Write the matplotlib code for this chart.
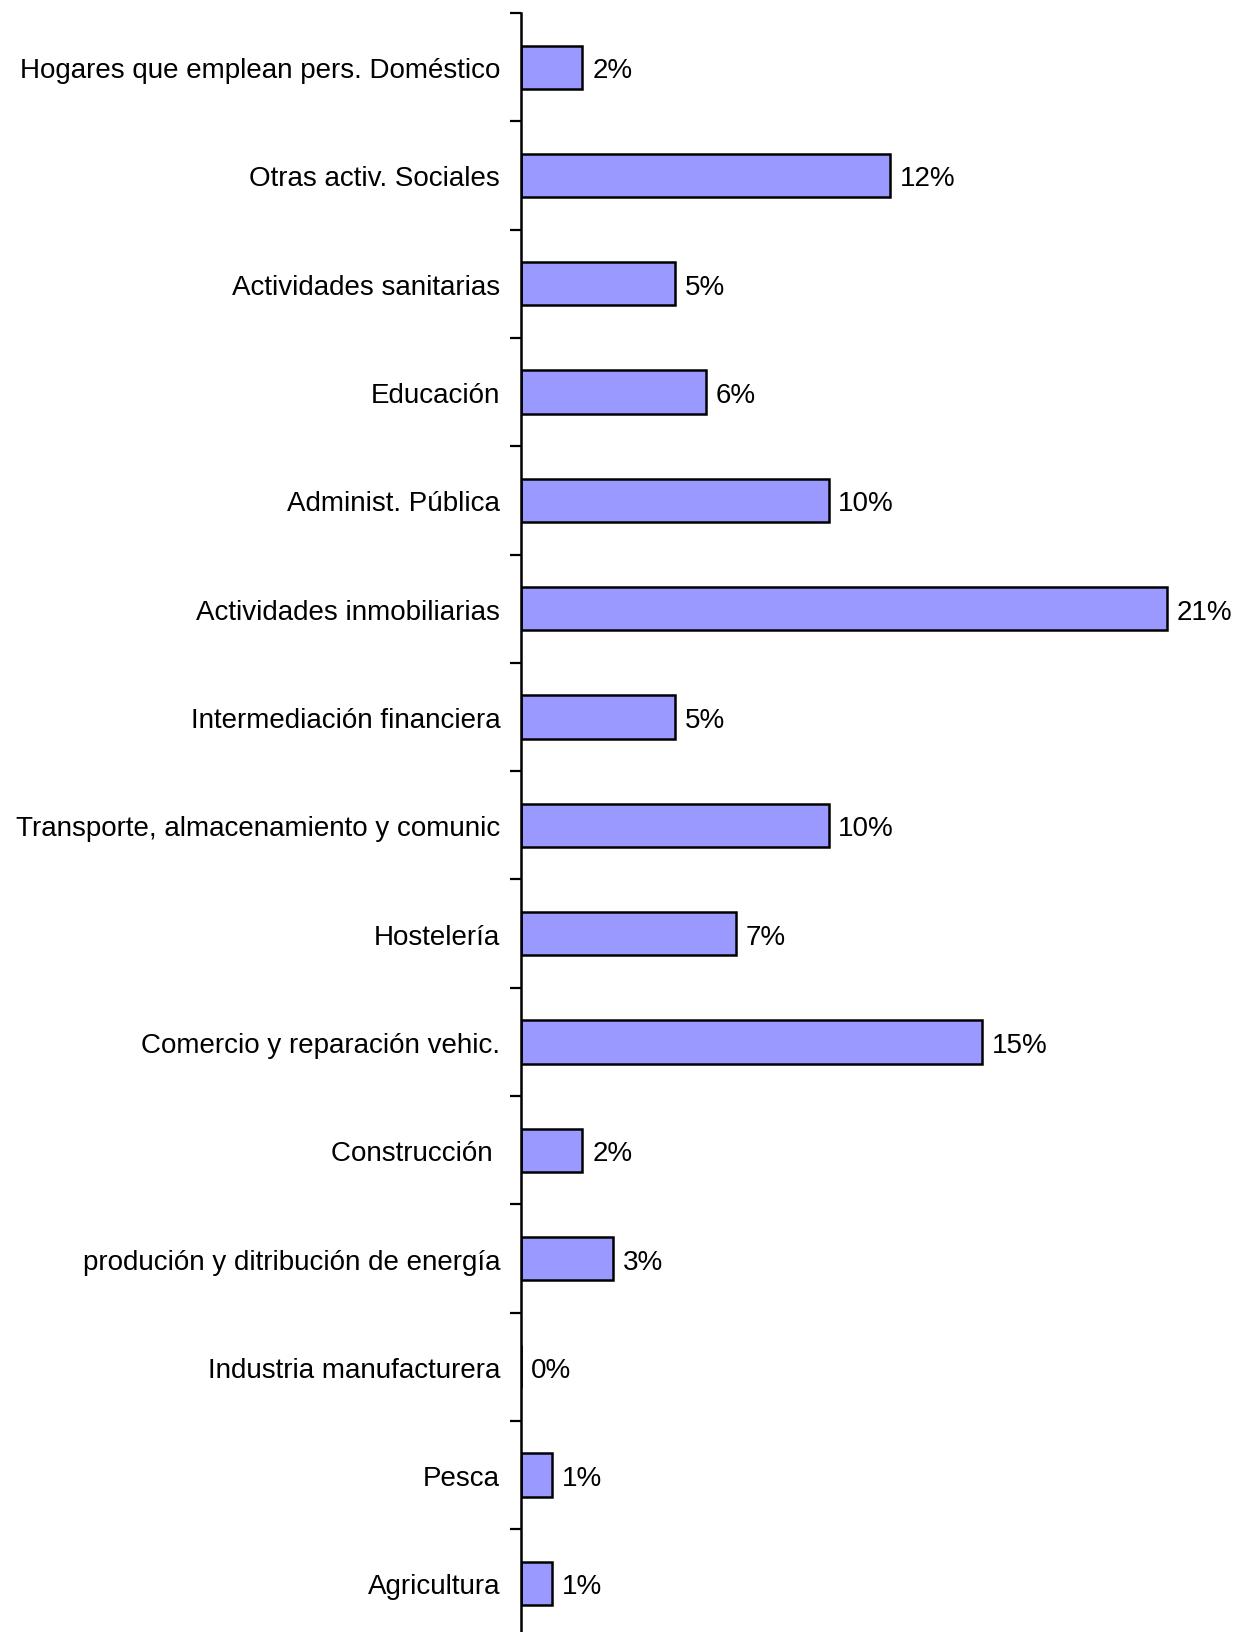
import numpy as np
import matplotlib
matplotlib.use("Agg")
import matplotlib.pyplot as plt

plt.rcParams['font.family'] = ['Liberation Sans', 'DejaVu Sans']

# Categories listed from top to bottom as in the chart
categories = [
    "Hogares que emplean pers. Doméstico",
    "Otras activ. Sociales",
    "Actividades sanitarias",
    "Educación",
    "Administ. Pública",
    "Actividades inmobiliarias",
    "Intermediación financiera",
    "Transporte, almacenamiento y comunic",
    "Hostelería",
    "Comercio y reparación vehic.",
    "Construcción ",
    "produción y ditribución de energía",
    "Industria manufacturera",
    "Pesca",
    "Agricultura",
]
values = [2, 12, 5, 6, 10, 21, 5, 10, 7, 15, 2, 3, 0, 1, 1]

fig = plt.figure(figsize=(12.41, 16.33), dpi=100)
ax = fig.add_axes([0.4198, -0.0034, 0.5701, 0.9948])

n = len(categories)
ypos = np.arange(n)[::-1]
bars = ax.barh(ypos, values, height=0.4, color='#9999FF',
               edgecolor='black', linewidth=1.8)
txts = ax.bar_label(bars, labels=[f"{v}%" for v in values], padding=7, fontsize=20)
for t in txts:
    t.set_va('center_baseline')

ax.set_xlim(0, 23)
ax.set_ylim(-0.5, n - 0.5)

for s in ['top', 'right', 'bottom']:
    ax.spines[s].set_visible(False)
ax.spines['left'].set_linewidth(1.8)
ax.set_xticks([])

# boundaries as major ticks, category names as minor tick labels
ax.set_yticks(np.arange(-0.5, n, 1.0))
ax.set_yticklabels([])
ax.tick_params(axis='y', which='major', direction='out', length=8, width=1.6)
ax.set_yticks(ypos, minor=True)
ax.set_yticklabels(categories, minor=True, fontsize=20)
ax.tick_params(axis='y', which='minor', length=0, pad=15)

fig.savefig("out.png", dpi=100)
